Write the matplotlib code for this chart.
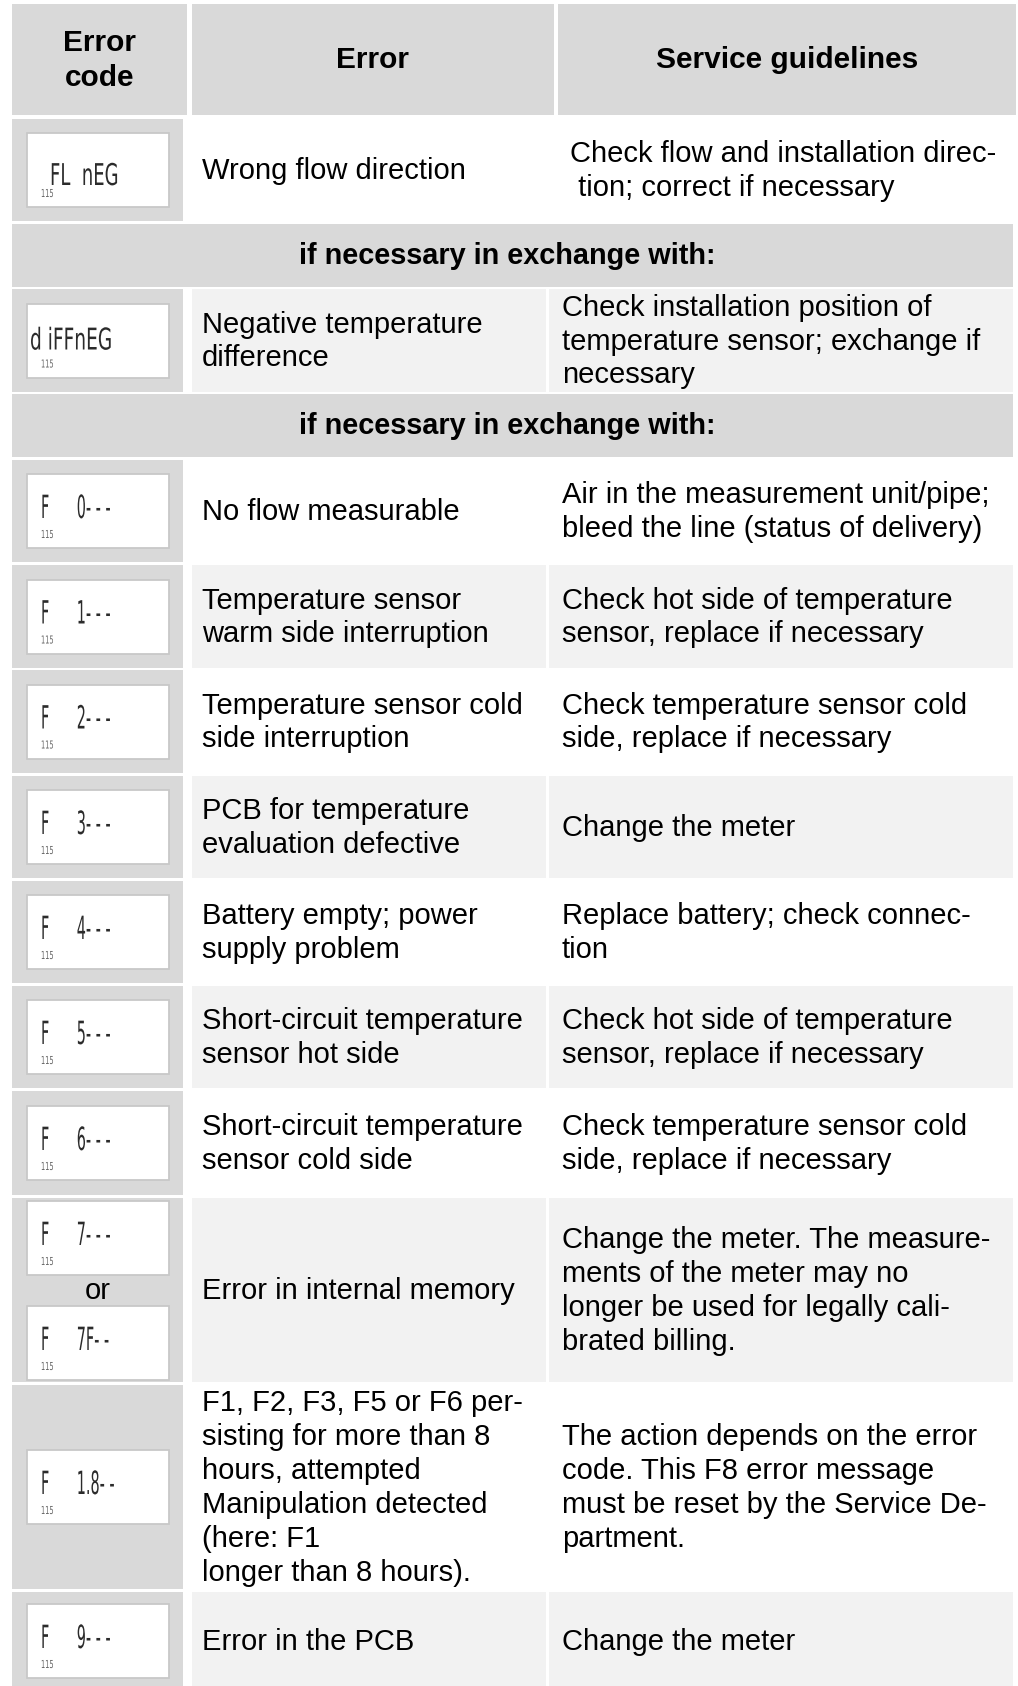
import matplotlib.pyplot as plt
from matplotlib.patches import Rectangle, PathPatch
from matplotlib.textpath import TextPath
from matplotlib.font_manager import FontProperties
from matplotlib.transforms import Affine2D

plt.rcParams['font.family'] = ['Liberation Sans', 'DejaVu Sans']

# table content
headers = ["Error\ncode", "Error", "Service guidelines"]
span_text = "if necessary in exchange with:"

row_kind = ["row", "span", "row", "span", "row", "row", "row", "row", "row",
            "row", "row", "row", "row", "row"]

lcd_codes = [
    ["FL  nEG"], None, ["d iFFnEG"], None,
    ["F      0- - -"], ["F      1- - -"], ["F      2- - -"], ["F      3- - -"],
    ["F      4- - -"], ["F      5- - -"], ["F      6- - -"],
    ["F      7- - -", "F      7F- -"], ["F      1.8- -"], ["F      9- - -"],
]

errors = [
    "Wrong flow direction",
    None,
    "Negative temperature\ndifference",
    None,
    "No flow measurable",
    "Temperature sensor\nwarm side interruption",
    "Temperature sensor cold\nside interruption",
    "PCB for temperature\nevaluation defective",
    "Battery empty; power\nsupply problem",
    "Short-circuit temperature\nsensor hot side",
    "Short-circuit temperature\nsensor cold side",
    "Error in internal memory",
    "F1, F2, F3, F5 or F6 per-\nsisting for more than 8\nhours, attempted\n"
    "Manipulation detected\n(here: F1\nlonger than 8 hours).",
    "Error in the PCB",
]

guidelines = [
    "Check flow and installation direc-\n tion; correct if necessary",
    None,
    "Check installation position of\ntemperature sensor; exchange if\nnecessary",
    None,
    "Air in the measurement unit/pipe;\nbleed the line (status of delivery)",
    "Check hot side of temperature\nsensor, replace if necessary",
    "Check temperature sensor cold\nside, replace if necessary",
    "Change the meter",
    "Replace battery; check connec-\ntion",
    "Check hot side of temperature\nsensor, replace if necessary",
    "Check temperature sensor cold\nside, replace if necessary",
    "Change the meter. The measure-\nments of the meter may no\n"
    "longer be used for legally cali-\nbrated billing.",
    "The action depends on the error\ncode. This F8 error message\n"
    "must be reset by the Service De-\npartment.",
    "Change the meter",
]

# layout (pixels)
W, H = 1018, 1686
header_y = (4, 115)
row_y = [(119, 221), (224, 287), (289, 392), (394, 457), (460, 562),
         (565, 668), (670, 773), (776, 878), (881, 983), (986, 1088),
         (1091, 1195), (1198, 1382), (1385, 1589), (1592, 1690)]
head_cols = [(12, 187), (192, 554), (558, 1016)]
body_cols = [(12, 183), (192, 546), (549, 1013)]

GRAY = "#d9d9d9"
LIGHT = "#f2f2f2"
FS = 21
LS = 1.27

fig = plt.figure(figsize=(W / 100, H / 100), dpi=100)
ax = fig.add_axes([0, 0, 1, 1])
ax.set_xlim(0, W)
ax.set_ylim(H, 0)
ax.axis("off")

lcd_font = FontProperties(family="DejaVu Sans")


def cell(x0, x1, y0, y1, color):
    ax.add_patch(Rectangle((x0, y0), x1 - x0, y1 - y0, facecolor=color,
                           edgecolor="none"))


def path_text(s, x, y, size, sx, color):
    tp = TextPath((0, 0), s, size=size, prop=lcd_font)
    tr = Affine2D().scale(sx, -1).translate(x, y)
    ax.add_patch(PathPatch(tr.transform_path(tp), facecolor=color,
                           edgecolor="none"))


def lcd(x, y, code):
    w, h = 142, 74
    ax.add_patch(Rectangle((x, y), w, h, facecolor="white",
                           edgecolor="#c8c8c8", lw=1.3))
    if code.startswith("F "):
        path_text(code, x + 14, y + 44, 32, 0.45, "#2b2b2b")
    elif code.startswith("FL"):
        path_text(code, x + 23, y + 52, 30, 0.6, "#2b2b2b")
    else:
        path_text(code, x + 3, y + 46, 30, 0.62, "#2b2b2b")
    path_text("115", x + 14, y + 64, 11, 0.6, "#666666")


# header
for (x0, x1), txt in zip(head_cols, headers):
    cell(x0, x1, header_y[0], header_y[1], GRAY)
    ax.text((x0 + x1) / 2, sum(header_y) / 2 + 1, txt, ha="center",
            va="center", fontsize=21.5, fontweight="bold", linespacing=1.35)

shade = 0
for i, kind in enumerate(row_kind):
    y0, y1 = row_y[i]
    yc = (y0 + y1) / 2
    if kind == "span":
        cell(body_cols[0][0], body_cols[2][1], y0, y1, GRAY)
        ax.text(507, yc + 1, span_text, ha="center", va="center",
                fontsize=20.8, fontweight="bold")
        continue
    bg = "white" if shade % 2 == 0 else LIGHT
    shade += 1
    cell(*body_cols[0], y0, y1, GRAY)
    cell(*body_cols[1], y0, y1, bg)
    cell(*body_cols[2], y0, min(y1, H), bg)

    codes = lcd_codes[i]
    if len(codes) == 1:
        lcd(27, yc - 37, codes[0])
    else:
        lcd(27, y0 + 3, codes[0])
        ax.text(98, yc + 1, "or", ha="center", va="center", fontsize=FS)
        lcd(27, y1 - 76, codes[1])

    gx = 570 if i == 0 else 562
    ax.text(202, yc + 1, errors[i], ha="left", va="center", fontsize=FS,
            linespacing=LS)
    ax.text(gx, yc + 1, guidelines[i], ha="left", va="center", fontsize=FS,
            linespacing=LS)

fig.savefig("out.png", dpi=100)
